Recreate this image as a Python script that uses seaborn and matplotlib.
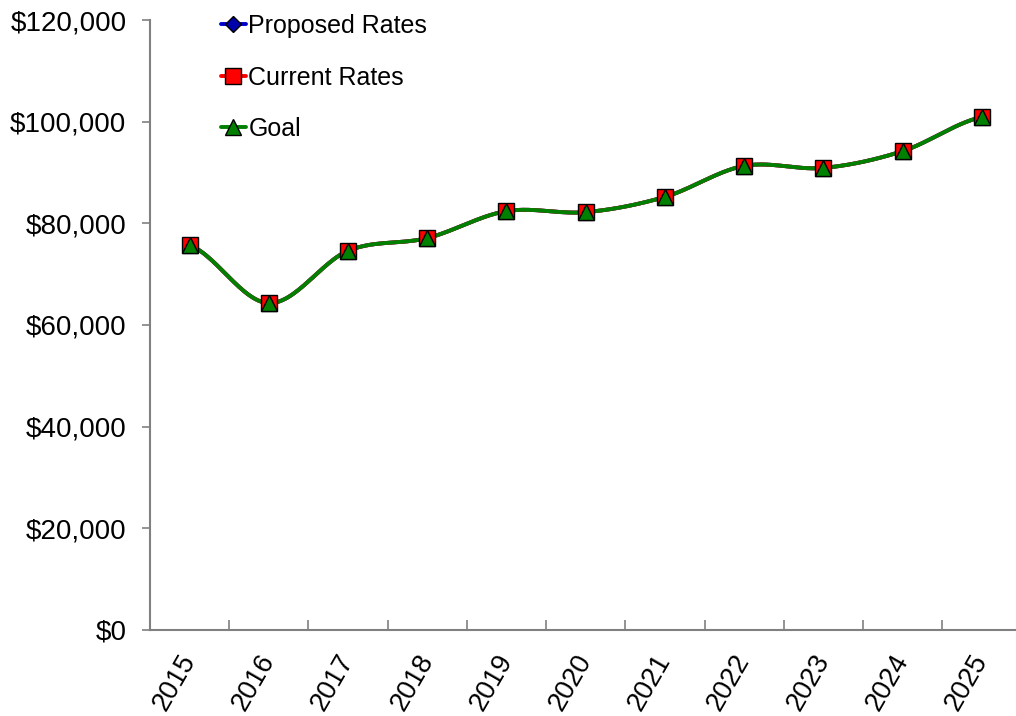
import numpy as np
import pandas as pd
import matplotlib
matplotlib.use("Agg")
import matplotlib.pyplot as plt
import seaborn as sns
from matplotlib.lines import Line2D
from matplotlib.ticker import FuncFormatter, FixedLocator

years = ["2015", "2016", "2017", "2018", "2019", "2020", "2021", "2022", "2023", "2024", "2025"]
proposed = [75700, 64300, 74600, 77100, 82400, 82200, 85200, 91300, 90900, 94200, 100900]
current = [75700, 64300, 74600, 77100, 82400, 82200, 85200, 91300, 90900, 94200, 100900]
goal = [75700, 64300, 74600, 77100, 82400, 82200, 85200, 91300, 90900, 94200, 100900]


def smooth(y, n=30):
    # catmull-rom style smoothing like the spreadsheet "smoothed line"
    y = np.asarray(y, dtype=float)
    x = np.arange(len(y), dtype=float)
    xs, ys = [], []
    for i in range(len(y) - 1):
        p0 = y[i - 1] if i > 0 else y[i]
        p3 = y[i + 2] if i + 2 < len(y) else y[i + 1]
        c1 = y[i] + (y[i + 1] - p0) / 6
        c2 = y[i + 1] - (p3 - y[i]) / 6
        t = np.linspace(0, 1, n)
        b = ((1 - t) ** 3 * y[i] + 3 * (1 - t) ** 2 * t * c1
             + 3 * (1 - t) * t ** 2 * c2 + t ** 3 * y[i + 1])
        xs.append(x[i] + t)
        ys.append(b)
    return np.concatenate(xs), np.concatenate(ys)


sns.set_theme(style="white")
plt.rcParams['font.family'] = ['Liberation Sans', 'DejaVu Sans']
plt.rcParams['text.color'] = 'black'
plt.rcParams['xtick.labelcolor'] = 'black'
plt.rcParams['ytick.labelcolor'] = 'black'

fig = plt.figure(figsize=(10.16, 7.16), dpi=100)
ax = fig.add_axes([150 / 1016, 86 / 716, 871.4 / 1016, 610 / 716])

series = [
    ("Proposed Rates", proposed, "#0000cc", "D", "#0000aa", 8.5),
    ("Current Rates", current, "#ff0000", "s", "#ff0000", 11),
    ("Goal", goal, "#008000", "^", "#008000", 11.5),
]

handles = []
for name, vals, lc, mk, fc, ms in series:
    sx, sy = smooth(vals)
    ax.plot(sx, sy, color=lc, lw=2.8, zorder=2)
    df = pd.DataFrame({"x": np.arange(len(years)), "y": vals})
    sns.lineplot(data=df, x="x", y="y", ax=ax, linestyle="", marker=mk,
                 markersize=ms, markerfacecolor=fc, markeredgecolor="black",
                 markeredgewidth=1.0, zorder=3)
    handles.append(Line2D([], [], color=lc, lw=2.8, marker=mk, markersize=ms,
                          markerfacecolor=fc, markeredgecolor="black",
                          markeredgewidth=1.0, label=name))

ax.set_xlim(-0.5, len(years) - 0.5)
ax.set_ylim(0, 120000)
ax.set_xlabel("")
ax.set_ylabel("")

ax.set_xticks(np.arange(len(years)))
ax.set_xticklabels(years, rotation=60, ha="right", va="center",
                   rotation_mode="anchor", fontsize=19.5, color="black")
ax.xaxis.set_minor_locator(FixedLocator(np.arange(-0.5, len(years), 1)))
ax.tick_params(axis="x", which="major", length=0, pad=19)
ax.tick_params(axis="x", which="minor", direction="in", length=7,
               width=1.2, color="#808080", bottom=True)

ax.set_yticks(np.arange(0, 120001, 20000))
ax.yaxis.set_major_formatter(FuncFormatter(lambda v, p: "${:,.0f}".format(v)))
ax.tick_params(axis="y", direction="out", length=6, width=1.2,
               color="#808080", left=True, labelsize=20, pad=11,
               labelcolor="black")

for s in ["top", "right"]:
    ax.spines[s].set_visible(False)
for s in ["left", "bottom"]:
    ax.spines[s].set_color("#808080")
    ax.spines[s].set_linewidth(1.5)

leg = ax.legend(handles=handles, loc="upper left", bbox_to_anchor=(0.07, 1.026),
                frameon=False, fontsize=18, handlelength=1.0,
                handletextpad=0.1, labelspacing=1.1, borderaxespad=0)
for t in leg.get_texts():
    t.set_color("black")

fig.savefig("out.png", dpi=100)
